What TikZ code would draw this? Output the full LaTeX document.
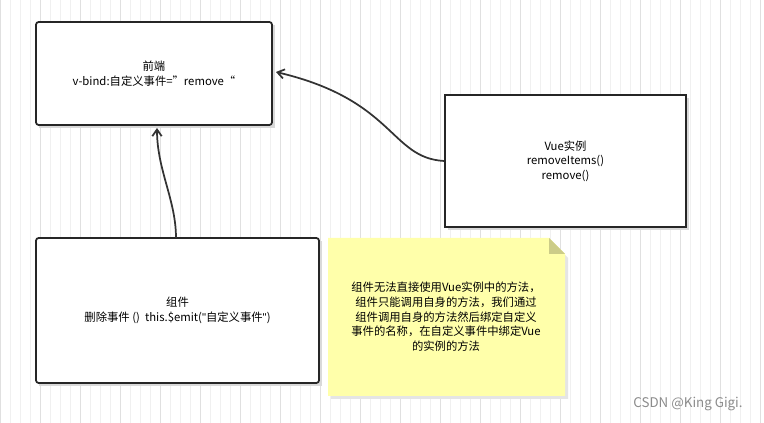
\documentclass[tikz,border=0pt]{standalone}
\usepackage{fontspec}
\setmainfont{Noto Sans CJK SC}
\newfontfamily\lat{Liberation Sans}
\usetikzlibrary{arrows.meta}
\begin{document}
\begin{tikzpicture}[x=0.75pt,y=-0.75pt,
  box/.style={draw=black!85,line width=1.3pt,rounded corners=2pt,fill=white,align=center,inner sep=0pt,font=\fontsize{8.5}{11}\selectfont},
  conn/.style={draw=black!80,line width=1.3pt,-{Straight Barb[length=5pt,width=7pt]}}]
\useasboundingbox (0,0) rectangle (764,423);
\fill[white] (0,0) rectangle (764,423);
\draw[black!6,line width=0.4pt,step=10] (0,0) grid (764,423);
\draw[black!12,line width=0.5pt,step=40] (0,0) grid (764,423);
\fill[black!15] (39,25) rectangle (275,128);
\node[box,minimum width=177pt,minimum height=77.25pt] (fe) at (154,73.5) {前端\\v-bind:自定义事件=”remove“};
\fill[black!15] (448,98) rectangle (689,230);
\node[box,rounded corners=0pt,minimum width=180.75pt,minimum height=99pt] (vue) at (565.5,161) {Vue实例\\removeItems()\\remove()};
\fill[black!15] (39,241) rectangle (322,386);
\node[box,minimum width=212.25pt,minimum height=108.75pt] (comp) at (177.5,310.5) {组件\\删除事件 ()\ \ this.\$emit({\lat\symbol{34}}自定义事件{\lat\symbol{34}})};
\fill[black!10] (331,241) -- (551,241) -- (568,258) -- (568,399) -- (331,399) -- cycle;
\fill[fill={rgb,255:red,255;green,255;blue,170}] (328,238) -- (549,238) -- (565,254) -- (565,396) -- (328,396) -- cycle;
\fill[fill={rgb,255:red,204;green,204;blue,136}] (549,238) -- (565,254) -- (549,254) -- cycle;
\node[align=center,font=\fontsize{8.5}{11}\selectfont] (note) at (446,317) {组件无法直接使用Vue实例中的方法，\\组件只能调用自身的方法，我们通过\\组件调用自身的方法然后绑定自定义\\事件的名称，在自定义事件中绑定Vue\\的实例的方法};
\draw[conn] (176,238) .. controls (176,200) and (157,170) .. (157,128);
\draw[conn] (vue.west) .. controls (390,158) and (395,100) .. (276,72);
\node[text=black!45,font=\fontsize{10}{12}\selectfont] (wm) at (688,404) {CSDN @King Gigi.};
\end{tikzpicture}
\end{document}
